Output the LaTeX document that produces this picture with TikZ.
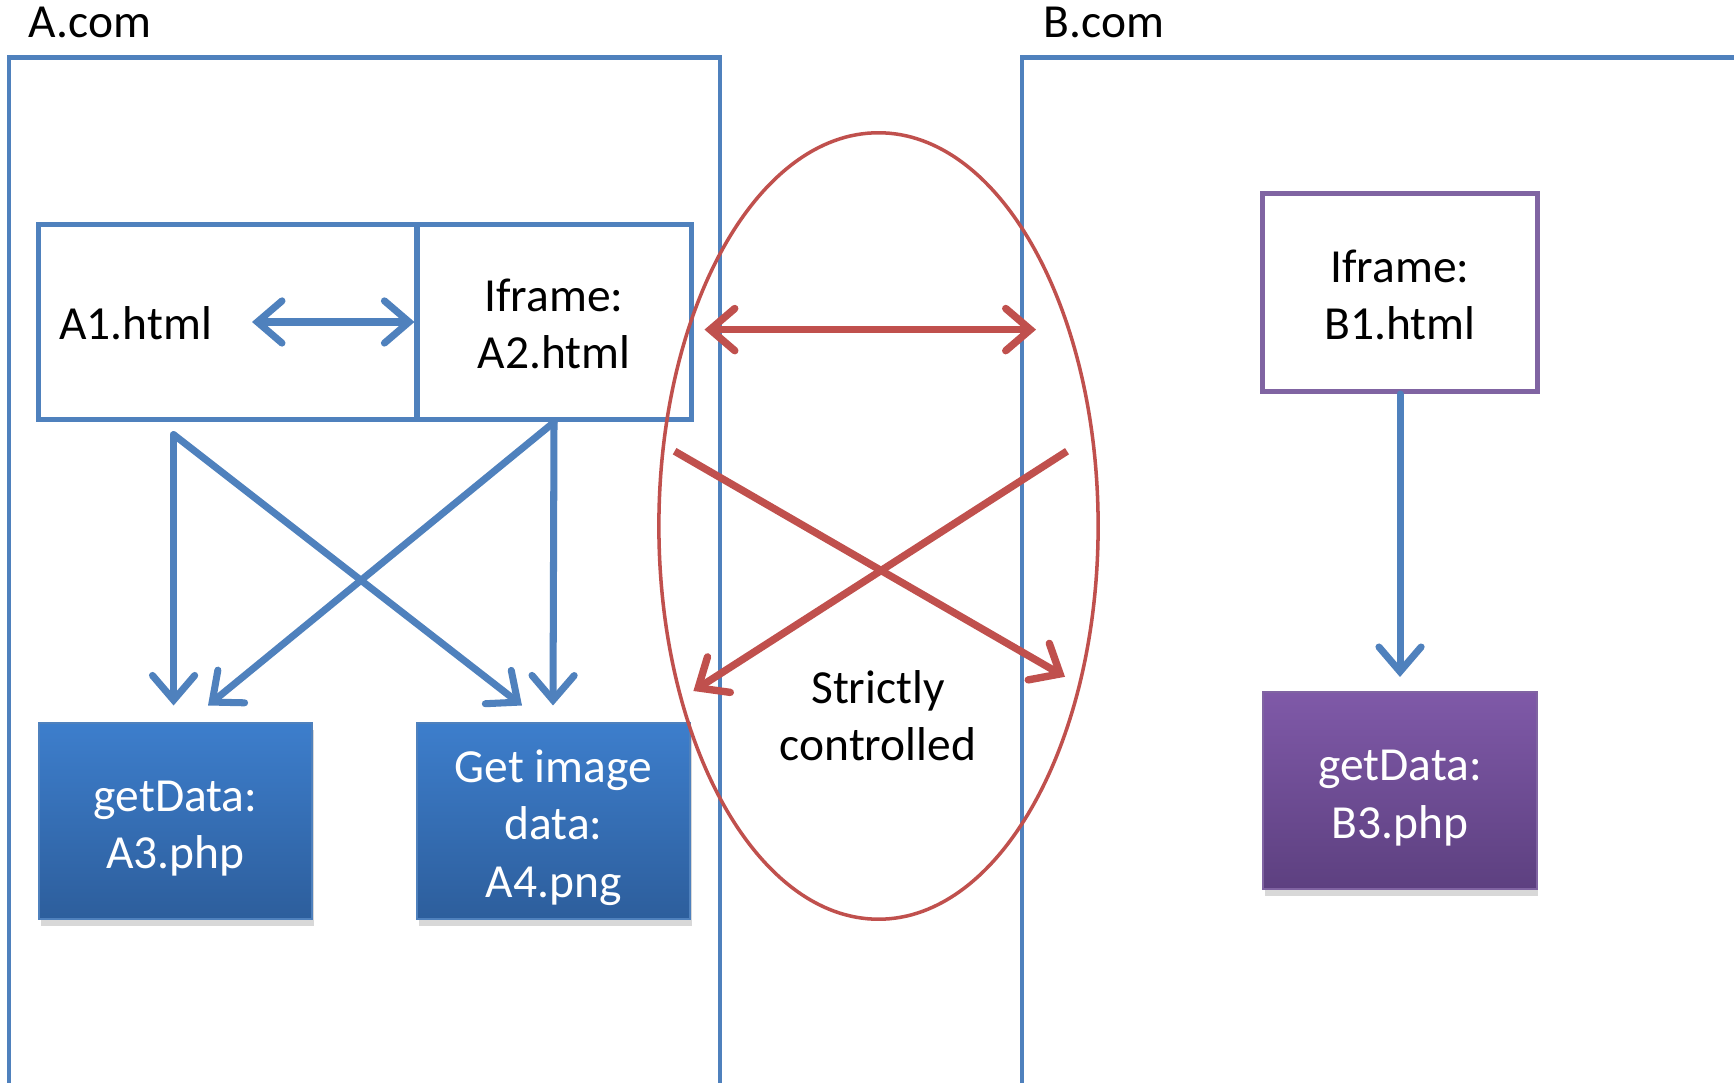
\documentclass[tikz,border=0pt]{standalone}
\usepackage{fontspec}
\setmainfont{Carlito}
\usetikzlibrary{arrows.meta,shapes.geometric,shadows}

\definecolor{siteblue}{HTML}{4F81BD}
\definecolor{ctrlred}{HTML}{C0504D}
\definecolor{framepurple}{HTML}{8064A2}
\definecolor{blueTop}{HTML}{3D7ECC}
\definecolor{blueBot}{HTML}{2D5E9C}
\definecolor{violetTop}{HTML}{7F59A8}
\definecolor{violetBot}{HTML}{5D4080}

% tall first line, so the text sits a little low as in the slide
\newcommand{\topstrut}[1][13pt]{\rule{0pt}{#1}}

\tikzset{
  site/.style={draw=siteblue, line width=1.4pt},
  pagebox/.style={draw=siteblue, line width=1.4pt, minimum height=1.955cm, inner sep=0pt, align=center},
  scriptbox/.style={draw=siteblue, line width=0.6pt, minimum width=2.73cm, minimum height=1.96cm,
    inner sep=0pt, text=white, align=center,
    drop shadow={shadow xshift=0.5pt, shadow yshift=-2pt, opacity=0.3}},
  flow/.style={siteblue, line width=2pt, line cap=round,
    -{Straight Barb[length=7pt,width=12pt,line cap=round]}},
  flowboth/.style={flow, {Straight Barb[length=7pt,width=12pt,line cap=round]}-{Straight Barb[length=7pt,width=12pt,line cap=round]}},
  risk/.style={ctrlred, line width=2.1pt,
    -{Straight Barb[length=7pt,width=12pt,line cap=round]}},
  riskboth/.style={risk, {Straight Barb[length=7pt,width=12pt,line cap=round]}-{Straight Barb[length=7pt,width=12pt,line cap=round]}}
}

\begin{document}
\begin{tikzpicture}[x=0.01cm, y=-0.01cm, font=\fontsize{13.5pt}{16.3pt}\selectfont]
	\useasboundingbox[fill=white] (0,0) rectangle (1734,1083);

	%sites
	\node[anchor=west, inner sep=0pt] (acom) at (28,22) {A.com};
	\node[anchor=west, inner sep=0pt] (bcom) at (1043,22) {B.com};
	\draw[site] (9,1083) |- (720,57.5) -- (720,1083);
	\draw[site] (1022,1083) |- (1734,57.5);

	%pages on A
	\node[pagebox, minimum width=3.78cm] (a1) at (228,322) {};
	\node[pagebox, minimum width=2.74cm] (a2) at (554,322) {\topstrut[10.5pt]Iframe:\\A2.html};
	\node[anchor=west, inner sep=0pt] (a1txt) at (58.6,323) {A1.html};
	\node[scriptbox, top color=blueTop, bottom color=blueBot] (a3) at (175.5,821) {\topstrut getData:\\A3.php};
	\node[scriptbox, top color=blueTop, bottom color=blueBot] (a4) at (553.5,821) {\topstrut Get image\\data:\\A4.png};

	%pages on B
	\node[pagebox, draw=framepurple, minimum width=2.74cm, minimum height=1.98cm] (b1) at (1400,292.5) {\topstrut[10.5pt]Iframe:\\B1.html};
	\node[scriptbox, draw=framepurple, top color=violetTop, bottom color=violetBot] (b3) at (1400,790.5) {\topstrut getData:\\B3.php};

	%controlled zone
	\node[ellipse, draw=ctrlred, line width=1pt, minimum width=4.39cm, minimum height=7.86cm, inner sep=0pt] (zone) at (878.5,526) {};
	\node[align=center, inner sep=0pt] (strict) at (878,716) {Strictly\\controlled};

	%tips and free ends
	\coordinate (a1in) at (252,322);
	\coordinate (a1out) at (173.6,434.6);
	\coordinate (a3l) at (173.6,705.5);
	\coordinate (a3r) at (208,705.5);
	\coordinate (a4l) at (522,705.5);
	\coordinate (a4r) at (553,705.5);
	\coordinate (b3in) at (1400,677);
	\coordinate (zl) at (704.5,329.6);
	\coordinate (zr) at (1036,329.6);
	\coordinate (xa) at (674.6,451.2);
	\coordinate (xb) at (1065,676.8);
	\coordinate (xc) at (1067,451.2);
	\coordinate (xd) at (693.4,691);

	%blue flows
	\draw[flowboth] (a1in) -- (a2.west);
	\draw[flow] (a1out) -- (a3l);
	\draw[flow] (a1out) -- (a4l);
	\draw[flow] (a2.south) -- (a4r);
	\draw[flow] (a2.south) -- (a3r);
	\draw[flow] (b1.south) -- (b3in);

	%red flows
	\draw[riskboth] (zl) -- (zr);
	\draw[risk] (xa) -- (xb);
	\draw[risk] (xc) -- (xd);
\end{tikzpicture}
\end{document}
